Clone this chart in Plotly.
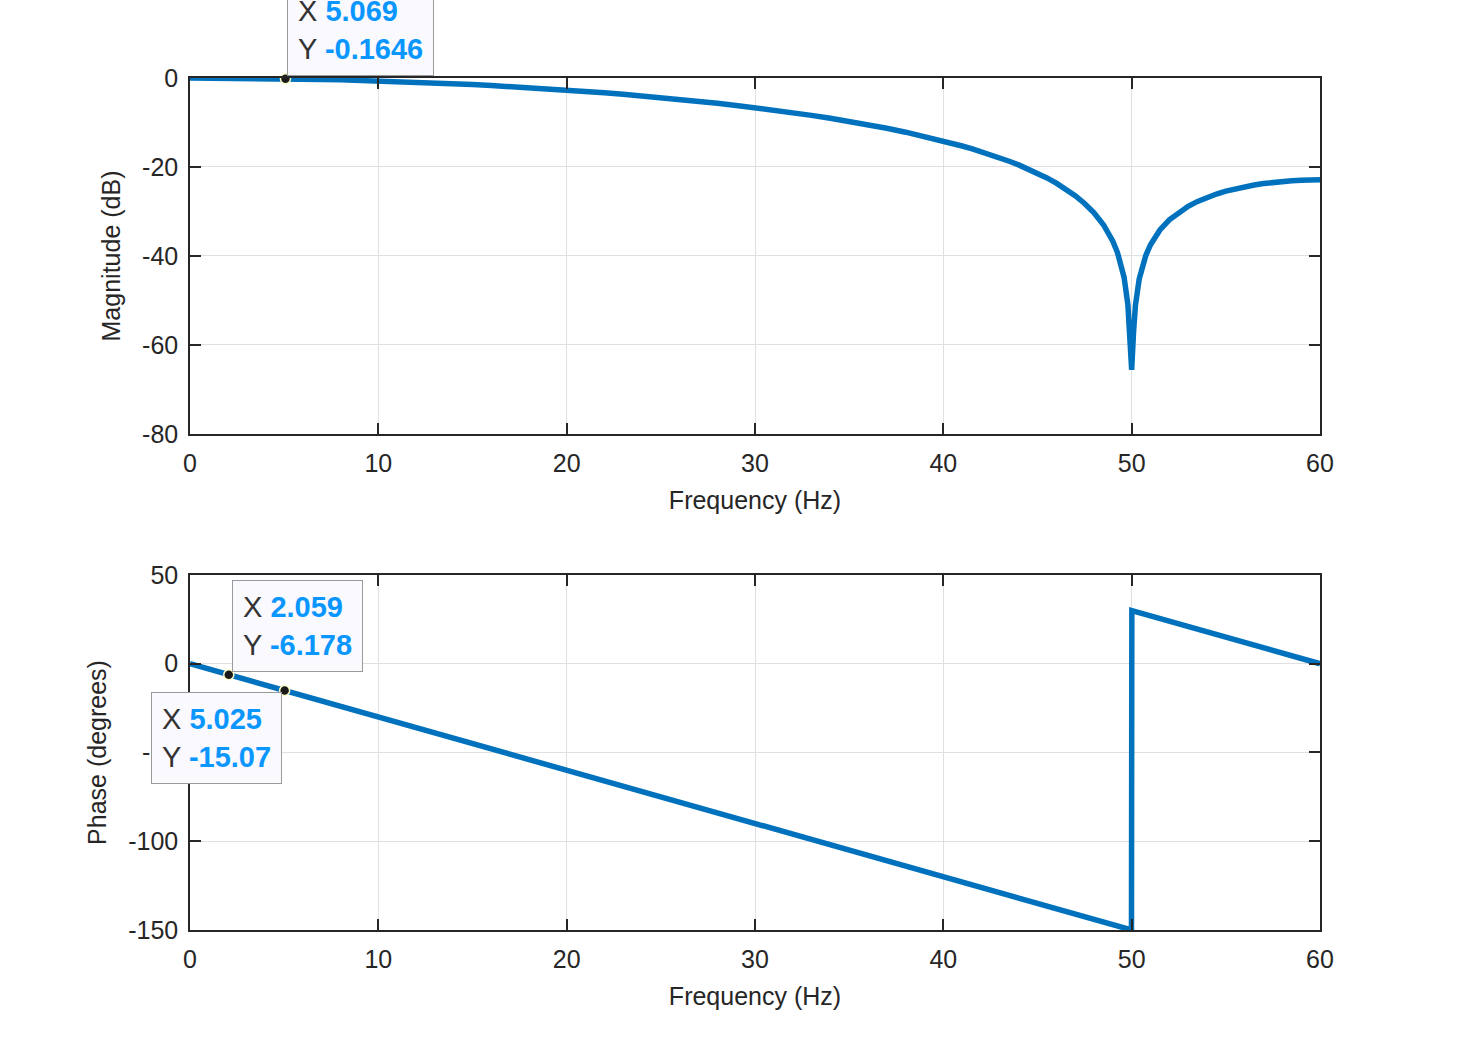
import plotly.graph_objects as go

# Magnitude response (dB)
freq_mag = [0, 1, 2, 3, 4, 5, 6, 7, 8, 9, 10, 11, 12, 13, 14, 15, 16, 17, 18, 19, 20,
            21, 22, 23, 24, 25, 26, 27, 28, 29, 30, 31, 32, 33, 34, 35, 36, 37, 38, 39, 40,
            40.5, 41, 41.5, 42, 42.5, 43, 43.5, 44, 44.5, 45, 45.5, 46, 46.5, 47, 47.5, 48,
            48.5, 49, 49.25, 49.5, 49.6, 49.8, 49.9, 50, 50.1, 50.2, 50.4, 50.5, 50.75, 51,
            51.5, 52, 52.5, 53, 53.5, 54, 54.5, 55, 55.5, 56, 56.5, 57, 57.5, 58, 58.5, 59,
            59.5, 60]
mag_db = [0.0, -0.006, -0.026, -0.058, -0.102, -0.160, -0.231, -0.315, -0.412, -0.523, -0.647,
          -0.785, -0.938, -1.105, -1.287, -1.483, -1.695, -1.924, -2.168, -2.430, -2.709,
          -3.007, -3.324, -3.660, -4.018, -4.397, -4.799, -5.226, -5.678, -6.158, -6.668,
          -7.209, -7.785, -8.398, -9.053, -9.752, -10.50, -11.31, -12.18, -13.12, -14.15,
          -14.70, -15.28, -15.89, -16.53, -17.21, -17.93, -18.71, -19.53, -20.43, -21.40,
          -22.46, -23.63, -24.94, -26.44, -28.19, -30.30, -32.98, -36.68, -39.28, -42.89,
          -44.87, -50.96, -57.08, -65.6, -57.1, -51.1, -45.18, -43.27, -39.9, -37.47,
          -34.15, -31.88, -30.17, -28.83, -27.73, -26.83, -26.07, -25.43, -24.88, -24.42,
          -24.04, -23.72, -23.45, -23.24, -23.08, -22.97, -22.90, -22.88]

# Phase response (degrees)
freq_ph = [0, 49.99, 50.01, 60]
phase_deg = [0, -149.97, 29.97, 0]

# Tick values / labels
x_ticks = [0, 10, 20, 30, 40, 50, 60]
x_labels = ["0", "10", "20", "30", "40", "50", "60"]
mag_ticks = [-80, -60, -40, -20, 0]
mag_labels = ["-80", "-60", "-40", "-20", "0"]
ph_ticks = [-150, -100, -50, 0, 50]
ph_labels = ["-150", "-100", "-50", "0", "50"]

# Data tips
tip_mag = (5.069, -0.1646)
tip_ph = [(2.059, -6.178), (5.025, -15.07)]

line_color = "#0072BD"
axis_color = "#262626"
grid_color = "#E0E0E0"
font_family = "Liberation Sans, Arial, Helvetica, sans-serif"
val_color = "#0A96FF"

fig = go.Figure()
fig.add_trace(go.Scatter(x=freq_mag, y=mag_db, mode="lines",
                         line=dict(color=line_color, width=5.5), xaxis="x", yaxis="y",
                         showlegend=False, hoverinfo="skip"))
fig.add_trace(go.Scatter(x=freq_ph, y=phase_deg, mode="lines",
                         line=dict(color=line_color, width=5.5), xaxis="x2", yaxis="y2",
                         showlegend=False, hoverinfo="skip"))

marker = dict(color="#1a1a1a", size=10, line=dict(color="#FFFFC8", width=1.5))
fig.add_trace(go.Scatter(x=[tip_mag[0]], y=[tip_mag[1]], mode="markers", marker=marker,
                         xaxis="x", yaxis="y", showlegend=False, cliponaxis=False))
fig.add_trace(go.Scatter(x=[p[0] for p in tip_ph], y=[p[1] for p in tip_ph], mode="markers",
                         marker=marker, xaxis="x2", yaxis="y2", showlegend=False, cliponaxis=False))

axis_common = dict(showline=True, linecolor=axis_color, linewidth=1.5, mirror="ticks",
                   ticks="inside", ticklen=11, tickcolor=axis_color, tickwidth=1.5,
                   showgrid=True, gridcolor=grid_color, gridwidth=1.2, zeroline=False,
                   automargin=False,
                   tickfont=dict(family=font_family, size=25, color=axis_color))
title_font = dict(family=font_family, size=25, color=axis_color)

fig.update_layout(
    width=1460, height=1046,
    margin=dict(l=190, r=140, t=78, b=116),
    paper_bgcolor="white", plot_bgcolor="white",
    font=dict(family=font_family, color=axis_color),
    xaxis=dict(range=[0, 60], tickvals=x_ticks, ticktext=x_labels, domain=[0, 1], anchor="y",
               ticklabelstandoff=6,
               title=dict(text="Frequency (Hz)", font=title_font, standoff=16),
               **axis_common),
    yaxis=dict(range=[-80, 0], tickvals=mag_ticks, ticktext=mag_labels, domain=[0.5822, 1],
               anchor="x", ticklabelstandoff=5,
               title=dict(text="Magnitude (dB)", font=title_font, standoff=14),
               **axis_common),
    xaxis2=dict(range=[0, 60], tickvals=x_ticks, ticktext=x_labels, domain=[0, 1], anchor="y2",
                ticklabelstandoff=6,
                title=dict(text="Frequency (Hz)", font=title_font, standoff=16),
                **axis_common),
    yaxis2=dict(range=[-150, 50], tickvals=ph_ticks, ticktext=ph_labels, domain=[0, 0.4167],
                anchor="x2", ticklabelstandoff=5,
                title=dict(text="Phase (degrees)", font=title_font, standoff=14),
                **axis_common),
)


def tip_text(x, y):
    return (f"X <b><span style='color:{val_color}'>{x}</span></b><br>"
            f"Y <b><span style='color:{val_color}'>{y}</span></b>")


ann_common = dict(showarrow=False, align="left", bgcolor="#F9F9FE", bordercolor="#9A9A9A",
                  borderwidth=1, borderpad=10,
                  font=dict(family=font_family, size=29, color="#333333"))

fig.add_annotation(x=tip_mag[0], y=tip_mag[1], xref="x", yref="y", xanchor="left",
                   yanchor="bottom", xshift=2, yshift=3,
                   text=tip_text("5.069", "-0.1646"), **ann_common)
fig.add_annotation(x=tip_ph[0][0], y=tip_ph[0][1], xref="x2", yref="y2", xanchor="left",
                   yanchor="bottom", xshift=3, yshift=3,
                   text=tip_text("2.059", "-6.178"), **ann_common)
fig.add_annotation(x=tip_ph[1][0], y=tip_ph[1][1], xref="x2", yref="y2", xanchor="right",
                   yanchor="top", xshift=-3, yshift=-2,
                   text=tip_text("5.025", "-15.07"), **ann_common)

fig.write_html("out.html", config={"displayModeBar": False},
               post_script="document.body.style.margin='0';")
